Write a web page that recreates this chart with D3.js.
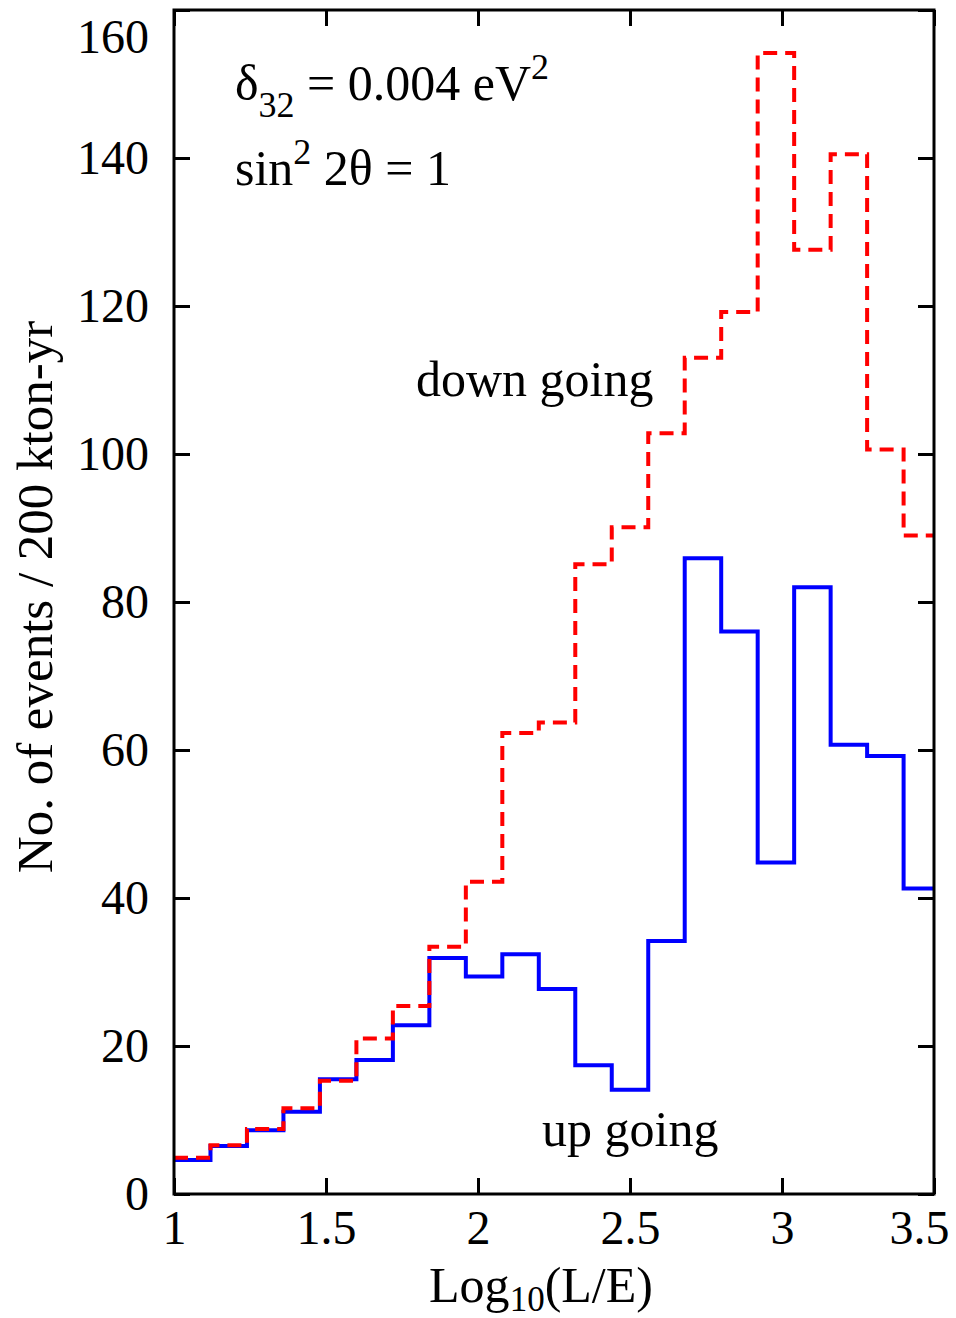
<!DOCTYPE html>
<html>
<head>
<meta charset="utf-8">
<script src="https://cdn.jsdelivr.net/npm/d3@7"></script>
<style>
  body { margin: 0; background: #fff; }
  text { font-family: "Liberation Serif", "Times New Roman", serif; fill: #000; }
</style>
</head>
<body>
<svg width="956" height="1318"></svg>
<script>
// bin edges in Log10(L/E)
const binEdges = [1.00, 1.12, 1.24, 1.36, 1.48, 1.60, 1.72, 1.84, 1.96, 2.08, 2.20,
  2.32, 2.44, 2.56, 2.68, 2.80, 2.92, 3.04, 3.16, 3.28, 3.40, 3.52];

// events per bin
const downGoing = [4.9, 6.6, 8.8, 11.6, 15.3, 21.0, 25.4, 33.4, 42.2, 62.3, 63.7,
  85.1, 90.1, 102.8, 113.0, 119.2, 154.2, 127.6, 140.5, 100.6, 89.0];
const upGoing = [4.6, 6.5, 8.6, 11.1, 15.5, 18.1, 22.8, 31.9, 29.4, 32.4, 27.7,
  17.4, 14.1, 34.2, 85.9, 76.0, 44.8, 82.0, 60.7, 59.2, 41.3];

const xTicks = [1, 1.5, 2, 2.5, 3, 3.5];
const yTicks = [0, 20, 40, 60, 80, 100, 120, 140, 160];

const svg = d3.select('svg');

const pLeft = 174, pRight = 934, pTop = 10, pBottom = 1194;
const tickLen = 16;

const x = d3.scaleLinear().domain([1, 3.5]).range([pLeft, pRight]);
const y = d3.scaleLinear().domain([0, 160]).range([pBottom, pTop]);

svg.append('clipPath').attr('id', 'plot')
  .append('rect')
  .attr('x', pLeft).attr('y', pTop)
  .attr('width', pRight - pLeft).attr('height', pBottom - pTop);

// step line: one point per left edge, plus the last right edge
const stepLine = d3.line()
  .x(d => x(d[0]))
  .y(d => y(d[1]))
  .curve(d3.curveStepAfter);

function steps(values) {
  const pts = values.map((v, i) => [binEdges[i], v]);
  pts.push([binEdges[values.length], values[values.length - 1]]);
  return pts;
}

const plot = svg.append('g').attr('clip-path', 'url(#plot)');

plot.append('path')
  .attr('d', stepLine(steps(upGoing)))
  .attr('fill', 'none')
  .attr('stroke', '#0000ff')
  .attr('stroke-width', 4);

plot.append('path')
  .attr('d', stepLine(steps(downGoing)))
  .attr('fill', 'none')
  .attr('stroke', '#ff0000')
  .attr('stroke-width', 4)
  .attr('stroke-dasharray', '14,8');

// axes (inward ticks on all four sides)
const fmt = d => d3.format('')(d);

const xAxis = svg.append('g')
  .attr('transform', `translate(0, ${pBottom})`)
  .call(d3.axisBottom(x).tickValues(xTicks).tickFormat(fmt)
    .tickSizeInner(-tickLen).tickSizeOuter(0).tickPadding(16));

const yAxis = svg.append('g')
  .attr('transform', `translate(${pLeft}, 0)`)
  .call(d3.axisLeft(y).tickValues(yTicks)
    .tickSizeInner(-tickLen).tickSizeOuter(0).tickPadding(25));

svg.append('g')
  .attr('transform', `translate(0, ${pTop})`)
  .call(d3.axisTop(x).tickValues(xTicks).tickFormat('')
    .tickSizeInner(-tickLen).tickSizeOuter(0));

svg.append('g')
  .attr('transform', `translate(${pRight}, 0)`)
  .call(d3.axisRight(y).tickValues(yTicks).tickFormat('')
    .tickSizeInner(-tickLen).tickSizeOuter(0));

svg.selectAll('.domain').remove();
svg.selectAll('.tick line').attr('stroke', '#000').attr('stroke-width', 3);
svg.selectAll('.tick text')
  .style('font-family', '"Liberation Serif", serif')
  .attr('font-size', 48)
  .attr('fill', '#000');

// last x label pulled in so it stays on the page
xAxis.selectAll('.tick text')
  .attr('dx', d => d === 3.5 ? -15 : 0);

// top label sits below the frame edge
yAxis.selectAll('.tick text')
  .attr('dy', d => d === 160 ? '0.88em' : '0.32em');

// frame
svg.append('rect')
  .attr('x', pLeft).attr('y', pTop)
  .attr('width', pRight - pLeft).attr('height', pBottom - pTop)
  .attr('fill', 'none')
  .attr('stroke', '#000')
  .attr('stroke-width', 3);

// axis titles
const xTitle = svg.append('text')
  .attr('x', 541).attr('y', 1302)
  .attr('text-anchor', 'middle')
  .attr('font-size', 50);
xTitle.append('tspan').text('Log');
xTitle.append('tspan').attr('dy', 9).attr('font-size', 35).text('10');
xTitle.append('tspan').attr('dy', -9).text('(L/E)');

svg.append('text')
  .attr('transform', 'translate(52, 597) rotate(-90)')
  .attr('text-anchor', 'middle')
  .attr('font-size', 51)
  .text('No. of events / 200 kton-yr');

// annotations
const delta = svg.append('text')
  .attr('x', 235).attr('y', 100)
  .attr('font-size', 50);
delta.append('tspan').text('δ');
delta.append('tspan').attr('dy', 17).attr('font-size', 36).text('32');
delta.append('tspan').attr('dy', -17).text(' = 0.004 eV');
delta.append('tspan').attr('dy', -21).attr('font-size', 36).text('2');

const mix = svg.append('text')
  .attr('x', 235).attr('y', 185)
  .attr('font-size', 50);
mix.append('tspan').text('sin');
mix.append('tspan').attr('dy', -21).attr('font-size', 36).text('2');
mix.append('tspan').attr('dy', 21).text(' 2θ = 1');

svg.append('text')
  .attr('x', 416).attr('y', 396)
  .attr('font-size', 50)
  .text('down going');

svg.append('text')
  .attr('x', 542).attr('y', 1146)
  .attr('font-size', 50)
  .text('up going');
</script>
</body>
</html>
